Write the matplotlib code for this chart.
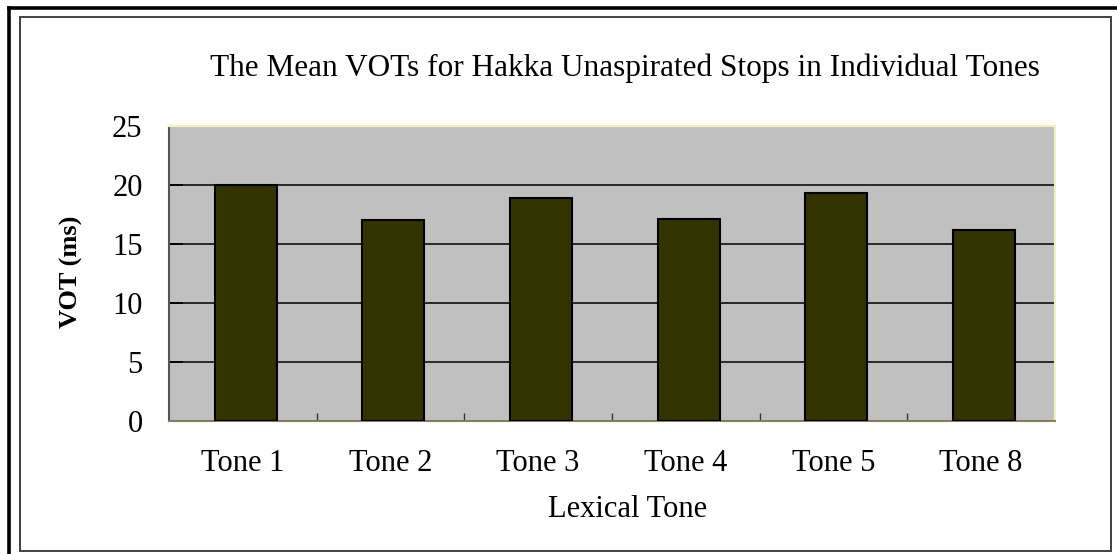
import matplotlib
matplotlib.use("Agg")
import matplotlib.pyplot as plt
from matplotlib.patches import Rectangle
from matplotlib.lines import Line2D

tones = ["Tone 1", "Tone 2", "Tone 3", "Tone 4", "Tone 5", "Tone 8"]
vot = [20.0, 17.0, 18.9, 17.1, 19.35, 16.15]
yticks = [0, 5, 10, 15, 20, 25]

plt.rcParams['font.family'] = ['Liberation Serif', 'DejaVu Serif']

fig = plt.figure(figsize=(11.17, 5.54), dpi=100)

# outer frames
fig.add_artist(Line2D([0.008, 0.008], [0, 0.986], color='black', lw=2.6,
                      transform=fig.transFigure))
fig.add_artist(Line2D([0.008, 1.0], [0.986, 0.986], color='black', lw=2.6,
                      transform=fig.transFigure))
fig.add_artist(Rectangle((0.0175, 0.006), 0.977, 0.964, fill=False,
                         edgecolor='#404040', lw=1.4, transform=fig.transFigure))

ax = fig.add_axes([0.1513, 0.240, 0.7932, 0.5326])
ax.set_facecolor('#c0c0c0')
x = list(range(len(tones)))
ax.bar([i + 0.02 for i in x], vot, width=0.42, color='#333300', edgecolor='black',
       lw=1.5, zorder=3)
ax.set_xlim(-0.5, len(tones) - 0.5)
ax.set_ylim(0, 25)
ax.set_yticks(yticks)
ax.set_yticklabels([str(v) for v in yticks], fontsize=22)
ax.yaxis.grid(True, color='black', lw=1.1, zorder=1)
ax.set_axisbelow(True)
ax.tick_params(axis='y', direction='in', length=10, width=1.2, pad=19, color='black')

ax.set_xticks(x)
ax.set_xticklabels(tones, fontsize=22)
ax.tick_params(axis='x', length=0, pad=20)
ax.set_xticks([i + 0.5 for i in x[:-1]], minor=True)
ax.tick_params(axis='x', which='minor', direction='in', length=6, width=1, color='#333333')

for s in ['top', 'right']:
    ax.spines[s].set_color('#f0f0c0')
    ax.spines[s].set_linewidth(1.5)
ax.spines['left'].set_color('#555555')
ax.spines['bottom'].set_color('#808060')
ax.spines['left'].set_linewidth(1.5)
ax.spines['bottom'].set_linewidth(1.5)

fig.text(0.0636, 0.509, "VOT (ms)", rotation=90, ha='center', va='center', fontsize=19,
         fontweight='bold')
fig.text(0.562, 0.081, "Lexical Tone", ha='center', va='center', fontsize=22)
fig.text(0.5595, 0.877, "The Mean VOTs for Hakka Unaspirated Stops in Individual Tones",
         ha='center', va='center', fontsize=22.5)

fig.savefig("out.png", dpi=100)
